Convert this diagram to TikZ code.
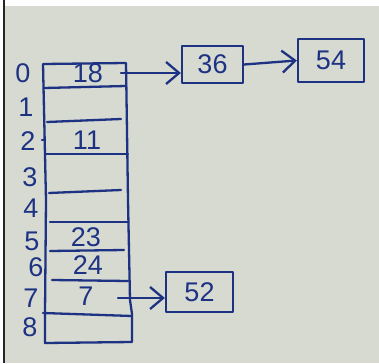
\documentclass[tikz,border=0pt]{standalone}
\usepackage{fontspec}
\setmainfont{Liberation Sans}
\usetikzlibrary{arrows.meta}
\definecolor{ink}{RGB}{30,50,132}
\definecolor{paper}{RGB}{214,218,208}
\tikzset{
  pen/.style={draw=ink, line width=2.3pt, line cap=round, line join=round},
  digit/.style={text=ink, font=\fontsize{27}{30}\selectfont, inner sep=0pt, anchor=center},
  cell/.style={pen, inner sep=0pt, minimum width=#1},
  link/.style={pen, -{Straight Barb[length=13pt,width=22pt,line width=2.3pt]}}
}
\begin{document}
\begin{tikzpicture}[x=1pt,y=-1pt]
  \useasboundingbox (0,0) rectangle (379,363);
  % sheet of paper with its dark left margin
  \fill[white] (0,0) rectangle (379,363);
  \fill[paper] (5,6) rectangle (379,363);
  \fill[black!85] (3.2,0) rectangle (5.2,363);

  % outline of the table
  \draw[pen] (44,64) -- (126,63) -- (128,200) -- (130,300) -- (132,314) -- (132,342) -- (45,343) -- (45,314) -- (46,200) -- (43,64);
  % row separators
  \draw[pen] (44,88) -- (126,86);
  \draw[pen] (47,122) -- (121,119);
  \draw[pen] (46,154) -- (128,154);
  \draw[pen] (49,193) -- (121,190);
  \draw[pen] (50,222) -- (128,222);
  \draw[pen] (50,251) -- (124,250);
  \draw[pen] (52,280) -- (128,281);
  \draw[pen] (43,313) -- (132,316);
  \draw[pen] (42,140) -- (45,140);

  % slot indices
  \node[digit] (i0) at (23,73) {0};
  \node[digit] (i1) at (26,107) {1};
  \node[digit] (i2) at (28,141) {2};
  \node[digit] (i3) at (30,177) {3};
  \node[digit] (i4) at (31,208) {4};
  \node[digit] (i5) at (32,241) {5};
  \node[digit] (i6) at (36,267) {6};
  \node[digit] (i7) at (31,298) {7};
  \node[digit] (i8) at (30,327) {8};

  % stored keys
  \node[digit] (v0) at (88,73) {18};
  \node[digit] (v2) at (87,140) {11};
  \node[digit] (v5) at (86,237) {23};
  \node[digit] (v6) at (88,265) {24};
  \node[digit] (v7) at (86,296) {7};

  % chained entries
  \node[cell=61pt, minimum height=37pt, digit] (c36) at (212.5,64.5) {36};
  \node[cell=66pt, minimum height=43pt, digit] (c54) at (331,60.5) {54};
  \node[cell=67pt, minimum height=40pt, digit] (c52) at (199.5,292) {52};

  % pointers
  \coordinate (p0) at (121,73);
  \coordinate (p7) at (118,298);
  \draw[link] (p0) -- (c36.west |- p0);
  \draw[link] (c36.east) -- (c54.west);
  \draw[link] (p7) -- (c52.west |- p7);
\end{tikzpicture}
\end{document}
